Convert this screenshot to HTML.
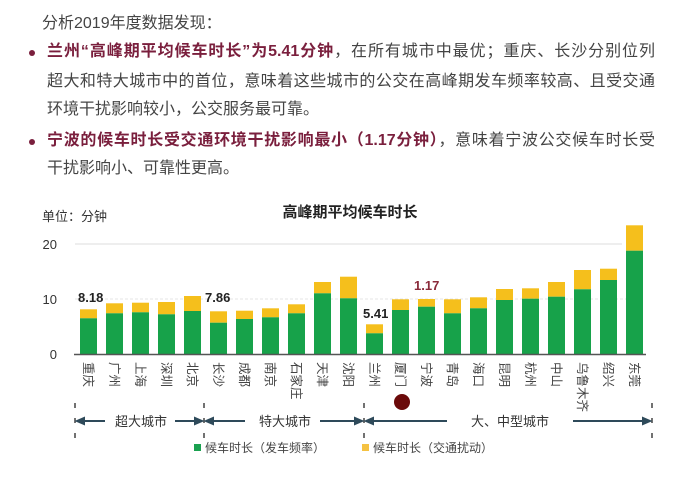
<!DOCTYPE html>
<html><head><meta charset="utf-8"><style>
body{margin:0;background:#fff;width:700px;height:479px;overflow:hidden;font-family:"Liberation Sans","Noto Sans CJK SC",sans-serif;}
.t{position:absolute;left:47px;width:608px;font-size:16px;color:#444;white-space:nowrap;line-height:20px;}
.j{text-align:justify;text-align-last:justify;}
b{color:#7a1f3d;}
.d{position:absolute;left:29px;width:6px;height:6px;border-radius:3px;background:#7a1f3d;}
</style></head><body>
<div class="t" style="left:42px;top:14px;">分析2019年度数据发现：</div>
<div class="d" style="top:50px"></div>
<div class="t j" style="top:42px"><b>兰州“高峰期平均候车时长”为5.41分钟</b>，在所有城市中最优；重庆、长沙分别位列</div>
<div class="t j" style="top:72px">超大和特大城市中的首位，意味着这些城市的公交在高峰期发车频率较高、且受交通</div>
<div class="t" style="top:100px">环境干扰影响较小，公交服务最可靠。</div>
<div class="d" style="top:139px"></div>
<div class="t j" style="top:131px"><b>宁波的候车时长受交通环境干扰影响最小（1.17分钟）</b>，意味着宁波公交候车时长受</div>
<div class="t" style="top:159px">干扰影响小、可靠性更高。</div>
<svg width="700" height="479" style="position:absolute;left:0;top:0" font-family="Liberation Sans, Noto Sans CJK SC, sans-serif">
<text x="350" y="217" font-size="15" font-weight="bold" text-anchor="middle" fill="#222">高峰期平均候车时长</text>
<text x="42" y="221" font-size="13" fill="#333">单位：分钟</text>
<text x="57" y="249" font-size="13" fill="#333" text-anchor="end">20</text>
<text x="57" y="304" font-size="13" fill="#333" text-anchor="end">10</text>
<text x="57" y="359" font-size="13" fill="#333" text-anchor="end">0</text>
<line x1="75" y1="244" x2="622" y2="244" stroke="#ddd"/>
<line x1="75" y1="299" x2="645" y2="299" stroke="#e4e4e4" stroke-dasharray="3,2"/>
<g id="bars"></g>
<line x1="74" y1="354.5" x2="646" y2="354.5" stroke="#555" stroke-width="1.5"/>
<text x="78" y="302" font-size="13" font-weight="bold" fill="#222">8.18</text>
<text x="205" y="302" font-size="13" font-weight="bold" fill="#222">7.86</text>
<text x="363" y="318" font-size="13" font-weight="bold" fill="#222">5.41</text>
<text x="414" y="290" font-size="13" font-weight="bold" fill="#8a2a3a">1.17</text>
<g stroke="#444" stroke-width="1.5" stroke-dasharray="5,10">
<line x1="75" y1="403" x2="75" y2="440"/><line x1="204" y1="403" x2="204" y2="440"/>
<line x1="364" y1="403" x2="364" y2="440"/><line x1="652" y1="403" x2="652" y2="440"/>
</g>
<g stroke="#2e4a5a" stroke-width="2" fill="#2e4a5a">
<line x1="80" y1="421" x2="105" y2="421"/><polygon points="77,421 84,418 84,424"/>
<line x1="175" y1="421" x2="198" y2="421"/><polygon points="202,421 195,418 195,424"/>
<line x1="209" y1="421" x2="245" y2="421"/><polygon points="206,421 213,418 213,424"/>
<line x1="320" y1="421" x2="358" y2="421"/><polygon points="362,421 355,418 355,424"/>
<line x1="369" y1="421" x2="447" y2="421"/><polygon points="366,421 373,418 373,424"/>
<line x1="573" y1="421" x2="646" y2="421"/><polygon points="650,421 643,418 643,424"/>
</g>
<text x="115" y="426" font-size="13" fill="#333">超大城市</text>
<text x="259" y="426" font-size="13" fill="#333">特大城市</text>
<text x="471" y="426" font-size="13" fill="#333">大、中型城市</text>
<circle cx="402" cy="402" r="8" fill="#6b0a0a"/>
<rect x="194" y="444" width="7" height="7" fill="#1aa150"/>
<text x="205" y="452" font-size="12" fill="#444">候车时长（发车频率）</text>
<rect x="362" y="444" width="7" height="7" fill="#f5c242"/>
<text x="373" y="452" font-size="12" fill="#444">候车时长（交通扰动）</text>
</svg>
<script>
var d=[["重庆",318.3,309.3],["广州",313.3,303.3],["上海",312.3,302.7],["深圳",314.3,302],["北京",311,296],["长沙",322.7,311.3],["成都",319,310.7],["南京",317.3,308.3],["石家庄",313.3,304.3],["天津",293.3,282],["沈阳",298.3,276.7],["兰州",333.3,324.3],["厦门",310,299.3],["宁波",306.7,299],["青岛",313.3,299.3],["海口",308.3,297.3],["昆明",300,289],["杭州",298.7,288.3],["中山",296.7,282],["乌鲁木齐",289.3,270],["绍兴",280,268.7],["东莞",250.7,225.3]];
var s="";
d.forEach(function(r,i){var x=80+i*26;
s+='<rect x="'+x+'" y="'+r[2]+'" width="17" height="'+(r[1]-r[2])+'" fill="#f5bf1c"/>';
s+='<rect x="'+x+'" y="'+r[1]+'" width="17" height="'+(354-r[1])+'" fill="#17a24a"/>';
s+='<text transform="translate('+(x+4)+',362) rotate(90)" font-size="12.5" fill="#444">'+r[0]+'</text>';});
document.getElementById("bars").innerHTML=s;
</script>
</body></html>
